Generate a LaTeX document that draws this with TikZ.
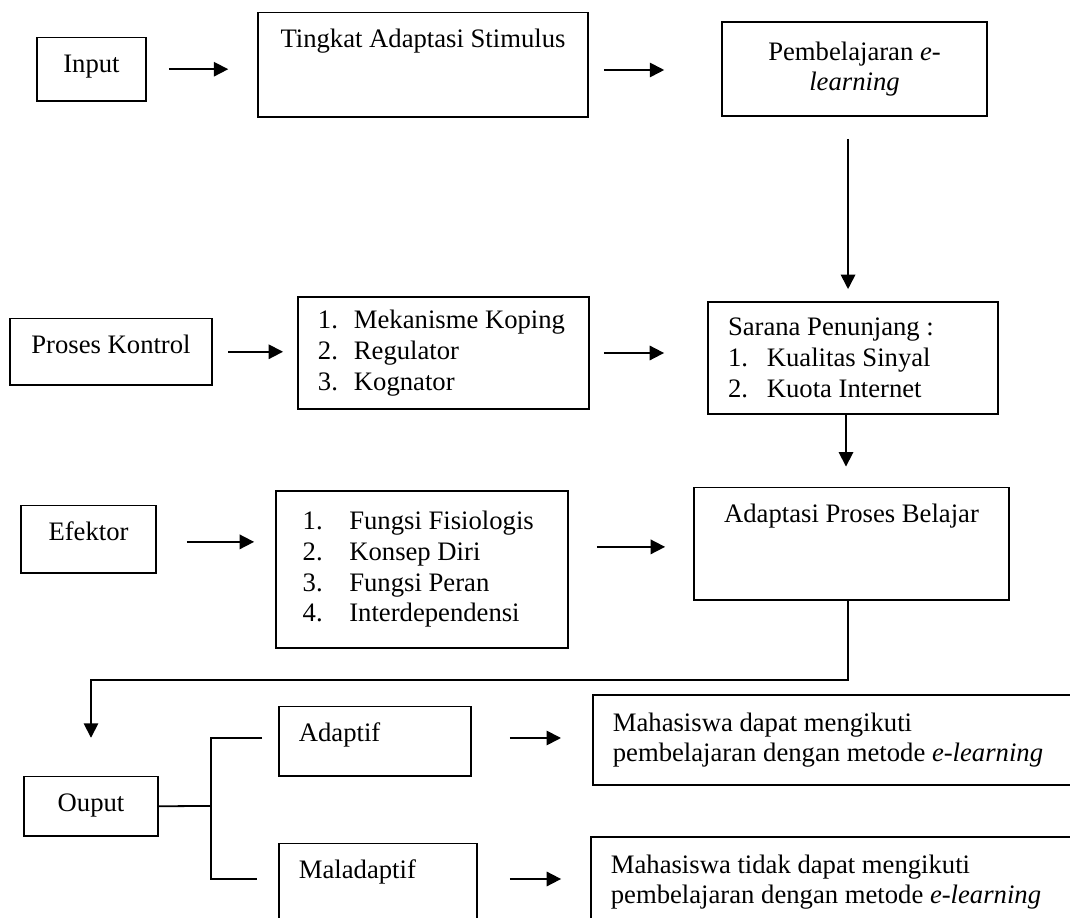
\documentclass[tikz,border=0pt]{standalone}
\usepackage{fontspec}
\setmainfont{Liberation Serif}
\usetikzlibrary{arrows.meta,calc}

\newcommand{\listno}[2]{\makebox[#1][l]{#2}}

\begin{document}
\begin{tikzpicture}[x=0.45pt,y=-0.45pt,line width=0.8pt,
  box/.style={draw,inner ysep=0pt,font=\fontsize{12}{13.8}\selectfont},
  tbox/.style={box,inner xsep=0pt,text height=16pt,text depth=#1},
  lbox/.style={box,align=flush left},
  arr/.style={-{Triangle[length=6.5pt,width=6.5pt]}}]

\useasboundingbox (0,0) rectangle (1070,918);
\clip (0,0) rectangle (1070,918);

\node[tbox=12.6pt,minimum width=49pt,anchor=base] (input) at (91.5,73) {Input};
\node[tbox=31pt,minimum width=148.5pt,anchor=base] (stimulus) at (423,48) {Tingkat Adaptasi Stimulus};
\node[box,minimum width=119.25pt,minimum height=42.3pt,align=center] (elearning) at (854.5,69) {Pembelajaran \textit{e-}\\\textit{learning}};

\node[tbox=14pt,minimum width=91pt,anchor=base] (kontrol) at (111,354) {Proses Kontrol};
\node[lbox,minimum height=50.4pt,inner xsep=9pt,text width=113pt] (koping) at (443.5,353)
  {\listno{16.2pt}{1.}Mekanisme Koping\\\listno{16.2pt}{2.}Regulator\\\listno{16.2pt}{3.}Kognator};
\node[lbox,minimum height=50.4pt,inner xsep=9pt,text width=112.5pt] (sarana) at (853,358)
  {Sarana Penunjang :\\\listno{17.5pt}{1.}Kualitas Sinyal\\\listno{17.5pt}{2.}Kuota Internet};

\node[tbox=14.4pt,minimum width=60.75pt,anchor=base] (efektor) at (88.5,541) {Efektor};
\node[lbox,minimum height=70.65pt,inner xsep=12pt,text width=107.4pt] (fungsi) at (422,569.5)
  {\listno{21pt}{1.}Fungsi Fisiologis\\\listno{21pt}{2.}Konsep Diri\\\listno{21pt}{3.}Fungsi Peran\\\listno{21pt}{4.}Interdependensi};
\node[tbox=34.7pt,minimum width=141.75pt,anchor=base] (belajar) at (851.5,523) {Adaptasi Proses Belajar};

\node[tbox=10.8pt,minimum width=60.3pt,anchor=base] (ouput) at (91,812) {Ouput};
\node[tbox=15.3pt,inner xsep=9pt,text width=68.4pt,align=flush left,anchor=base west] (adaptif) at (278,742) {Adaptif};
\node[tbox=22.5pt,inner xsep=9pt,text width=71.1pt,align=flush left,anchor=base west] (maladaptif) at (278,879) {Maladaptif};
\node[lbox,minimum height=40.5pt,inner xsep=9pt,text width=206pt,anchor=west] (dapat) at (592,740)
  {Mahasiswa dapat mengikuti\\pembelajaran dengan metode \textit{e-learning}};
\node[lbox,minimum height=40.5pt,inner xsep=9pt,text width=206pt,anchor=west] (tidak) at (590,882)
  {Mahasiswa tidak dapat mengikuti\\pembelajaran dengan metode \textit{e-learning}};

\draw[arr,shorten <=9.9pt,shorten >=13pt] (input.east) -- (input.east -| stimulus.west);
\draw[arr,shorten <=6.75pt,shorten >=25.6pt] ([yshift=-2.4pt]stimulus.east) -- ([yshift=-2.4pt]stimulus.east -| elearning.west);
\draw[arr,shorten <=9.9pt,shorten >=5.4pt] ([xshift=-2.9pt]elearning.south) -- ([xshift=-2.9pt]elearning.south |- sarana.north);

\draw[arr,shorten <=6.75pt,shorten >=6.3pt] (kontrol.east) -- (kontrol.east -| koping.west);
\draw[arr,shorten <=6.3pt,shorten >=19.35pt] (koping.east) -- (koping.east -| sarana.west);
\draw[arr,shorten >=9pt] ([xshift=-3.15pt]sarana.south) -- ([xshift=-3.15pt]sarana.south |- belajar.north);

\draw[arr,shorten <=13.5pt,shorten >=9.45pt] ([yshift=-1.2pt]efektor.east) -- ([yshift=-1.2pt]efektor.east -| fungsi.west);
\draw[arr,shorten <=12.6pt,shorten >=12.6pt] ([yshift=-1.4pt]belajar.west -| fungsi.east) -- ([yshift=-1.4pt]belajar.west);
\draw[arr,shorten >=17pt] ([xshift=-1.6pt]belajar.south) -- ++(0,79) -| (ouput.north);

\coordinate (fork) at (211,806);
\draw (ouput.east) -- (fork);
\draw ([xshift=-7.2pt,yshift=1.8pt]adaptif.base west) -| (fork) |- ([xshift=-9.5pt]maladaptif.base west);
\draw[arr,shorten <=17.1pt,shorten >=13.95pt] ([yshift=1.8pt]adaptif.base east) -- ([yshift=1.8pt]adaptif.base east -| dapat.west);
\draw[arr,shorten <=14.4pt,shorten >=13pt] (maladaptif.base east) -- (maladaptif.base east -| tidak.west);

\end{tikzpicture}
\end{document}
